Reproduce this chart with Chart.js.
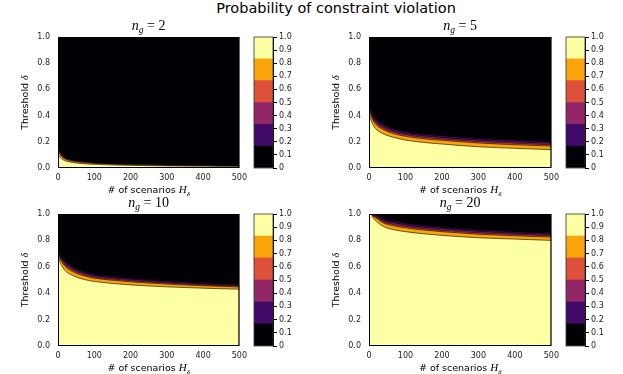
<!DOCTYPE html>
<html>
<head>
<meta charset="utf-8">
<script src="https://cdn.jsdelivr.net/npm/chart.js@4.4.1/dist/chart.umd.min.js"></script>
<style>
  body { margin:0; width:623px; height:374px; overflow:hidden; background:#fff; position:relative; }
  canvas { position:absolute; }
  #title { position:absolute; left:136px; top:0; width:400px; text-align:center; font:14.5px "DejaVu Sans"; line-height:17px; color:#000; }
</style>
</head>
<body>
<div id="title">Probability of constraint violation</div>
<canvas id="p1" width="252" height="196" style="left:0px;top:0px"></canvas>
<canvas id="c1" width="50" height="196" style="left:250px;top:0px"></canvas>
<canvas id="p2" width="253" height="196" style="left:311px;top:0px"></canvas>
<canvas id="c2" width="50" height="196" style="left:562px;top:0px"></canvas>
<canvas id="p3" width="252" height="197" style="left:0px;top:177px"></canvas>
<canvas id="c3" width="50" height="197" style="left:250px;top:177px"></canvas>
<canvas id="p4" width="253" height="197" style="left:311px;top:177px"></canvas>
<canvas id="c4" width="50" height="197" style="left:562px;top:177px"></canvas>
<script>
// scenario counts (x) and contour levels
const H = [0, 5, 10, 20, 40, 70, 100, 150, 200, 300, 400, 500];
const levels = [0, 0.167, 0.333, 0.5, 0.667, 0.833, 1];
const bandColors = ['#000004', '#420a68', '#932667', '#dd513a', '#fca50a', '#fcffa4'];
const cbTicks = [0, 0.1, 0.2, 0.3, 0.4, 0.5, 0.6, 0.7, 0.8, 0.9, 1.0];

// threshold delta on each contour line, n_g = 2
const ng2L17 = [0.17, 0.135, 0.11, 0.083, 0.064, 0.052, 0.044, 0.036, 0.031, 0.025, 0.021, 0.019];
const ng2L33 = [0.158, 0.125, 0.102, 0.077, 0.06, 0.048, 0.041, 0.033, 0.029, 0.023, 0.020, 0.018];
const ng2L50 = [0.147, 0.116, 0.095, 0.072, 0.056, 0.045, 0.038, 0.031, 0.027, 0.022, 0.018, 0.016];
const ng2L67 = [0.137, 0.108, 0.088, 0.068, 0.052, 0.042, 0.035, 0.029, 0.025, 0.020, 0.017, 0.015];
const ng2L83 = [0.11, 0.085, 0.07, 0.055, 0.042, 0.033, 0.028, 0.023, 0.02, 0.016, 0.014, 0.012];
// n_g = 5
const ng5L17 = [0.47, 0.45, 0.41, 0.37, 0.33, 0.295, 0.277, 0.258, 0.246, 0.226, 0.213, 0.200];
const ng5L33 = [0.462, 0.434, 0.395, 0.355, 0.316, 0.282, 0.264, 0.245, 0.233, 0.213, 0.2, 0.188];
const ng5L50 = [0.455, 0.42, 0.382, 0.342, 0.303, 0.271, 0.253, 0.234, 0.222, 0.202, 0.189, 0.177];
const ng5L67 = [0.448, 0.406, 0.369, 0.329, 0.292, 0.26, 0.242, 0.223, 0.211, 0.191, 0.178, 0.167];
const ng5L83 = [0.43, 0.37, 0.335, 0.295, 0.26, 0.232, 0.213, 0.195, 0.183, 0.162, 0.150, 0.140];
// n_g = 10
const ng10L17 = [0.74, 0.70, 0.675, 0.64, 0.60, 0.565, 0.544, 0.527, 0.514, 0.494, 0.478, 0.468];
const ng10L33 = [0.734, 0.688, 0.662, 0.626, 0.587, 0.553, 0.533, 0.516, 0.504, 0.485, 0.47, 0.46];
const ng10L50 = [0.729, 0.677, 0.65, 0.613, 0.575, 0.542, 0.523, 0.507, 0.495, 0.477, 0.463, 0.454];
const ng10L67 = [0.724, 0.667, 0.639, 0.602, 0.564, 0.532, 0.514, 0.498, 0.486, 0.469, 0.456, 0.447];
const ng10L83 = [0.71, 0.64, 0.61, 0.57, 0.535, 0.505, 0.489, 0.474, 0.463, 0.448, 0.438, 0.430];
// n_g = 20
const ng20L17 = [1.0, 1.0, 1.0, 0.995, 0.962, 0.945, 0.93, 0.913, 0.90, 0.88, 0.866, 0.856];
const ng20L33 = [1.0, 1.0, 0.995, 0.985, 0.951, 0.932, 0.917, 0.9, 0.888, 0.868, 0.855, 0.845];
const ng20L50 = [1.0, 1.0, 0.991, 0.976, 0.94, 0.92, 0.906, 0.889, 0.876, 0.857, 0.845, 0.835];
const ng20L67 = [1.0, 1.0, 0.986, 0.968, 0.931, 0.909, 0.895, 0.878, 0.866, 0.847, 0.835, 0.825];
const ng20L83 = [1.0, 1.0, 0.975, 0.945, 0.905, 0.88, 0.866, 0.85, 0.838, 0.82, 0.81, 0.80];

const panels = [
  { id: 'p1', cb: 'c1', ng: '2',  lines: [ng2L17, ng2L33, ng2L50, ng2L67, ng2L83] },
  { id: 'p2', cb: 'c2', ng: '5',  lines: [ng5L17, ng5L33, ng5L50, ng5L67, ng5L83] },
  { id: 'p3', cb: 'c3', ng: '10', lines: [ng10L17, ng10L33, ng10L50, ng10L67, ng10L83] },
  { id: 'p4', cb: 'c4', ng: '20', lines: [ng20L17, ng20L33, ng20L50, ng20L67, ng20L83] }
];

const SANS = '"DejaVu Sans"';
const SERIF = '"Liberation Serif"';

function drawRuns(ctx, runs, cx, baseY) {
  let w = 0;
  runs.forEach(r => { ctx.font = r.font; r.w = ctx.measureText(r.t).width; w += r.w; });
  let x = cx - w / 2;
  runs.forEach(r => { ctx.font = r.font; ctx.fillText(r.t, x, baseY + (r.dy || 0)); x += r.w; });
}

const panelText = {
  id: 'panelText',
  beforeDatasetsDraw(chart) {
    const a = chart.chartArea, ctx = chart.ctx;
    ctx.save();
    ctx.fillStyle = bandColors[0];
    ctx.fillRect(a.left, a.top, a.right - a.left, a.bottom - a.top);
    ctx.restore();
  },
  afterDraw(chart) {
    const a = chart.chartArea, ctx = chart.ctx;
    const ng = chart.options.plugins.panelText.ng;
    ctx.save();
    ctx.strokeStyle = '#000';
    ctx.lineWidth = 1;
    ctx.strokeRect(a.left + 0.5, a.top + 0.5, a.right - a.left - 1, a.bottom - a.top - 1);
    ctx.fillStyle = '#000';
    ctx.textBaseline = 'alphabetic';
    const cx = (a.left + a.right) / 2;
    drawRuns(ctx, [
      { t: 'n', font: 'italic 14px ' + SERIF },
      { t: 'g', font: 'italic 9.5px ' + SERIF, dy: 3 },
      { t: ' = ' + ng, font: '14px ' + SERIF }
    ], cx, a.top - 7);
    drawRuns(ctx, [
      { t: '# of scenarios ', font: '9.5px ' + SANS },
      { t: 'H', font: 'italic 11px ' + SERIF },
      { t: 'δ', font: 'italic 7px ' + SERIF, dy: 3 }
    ], cx, a.bottom + 25);
    ctx.translate(a.left - 30, (a.top + a.bottom) / 2);
    ctx.rotate(-Math.PI / 2);
    drawRuns(ctx, [
      { t: 'Threshold ', font: '9.5px ' + SANS },
      { t: 'δ', font: 'italic 10px ' + SERIF }
    ], 0, 0);
    ctx.restore();
  }
};

const cbFrame = {
  id: 'cbFrame',
  afterDraw(chart) {
    const a = chart.chartArea, ctx = chart.ctx;
    ctx.save();
    ctx.strokeStyle = '#333';
    ctx.lineWidth = 0.8;
    ctx.strokeRect(a.left, a.top, a.right - a.left, a.bottom - a.top);
    ctx.restore();
  }
};

const lineColors = bandColors.slice(1); // fill colour under each contour line

panels.forEach(p => {
  new Chart(document.getElementById(p.id), {
    type: 'line',
    data: {
      datasets: p.lines.map((vals, i) => ({
        data: vals.map((v, j) => ({ x: H[j], y: v })),
        borderColor: 'rgba(0,0,0,0.75)',
        borderWidth: 0.8,
        backgroundColor: lineColors[i],
        fill: 'start',
        pointRadius: 0,
        cubicInterpolationMode: 'monotone',
        order: 5 - i
      }))
    },
    options: {
      responsive: false,
      animation: false,
      devicePixelRatio: 1,
      layout: { padding: { left: 0, top: 37, right: 10, bottom: 0 } },
      plugins: { legend: { display: false }, tooltip: { enabled: false }, panelText: { ng: p.ng } },
      scales: {
        x: {
          type: 'linear', min: 0, max: 500,
          grid: { display: false, drawTicks: false },
          border: { display: false },
          ticks: { stepSize: 100, maxRotation: 0, padding: 5, color: '#222', font: { family: 'DejaVu Sans', size: 8 } },
          afterFit: s => { s.height = 28; }
        },
        y: {
          min: 0, max: 1,
          grid: { display: false, drawTicks: false },
          border: { display: false },
          ticks: { stepSize: 0.2, padding: 8, color: '#222', font: { family: 'DejaVu Sans', size: 8 },
                   callback: v => v.toFixed(1) },
          afterFit: s => { s.width = 58; }
        }
      }
    },
    plugins: [panelText]
  });

  new Chart(document.getElementById(p.cb), {
    type: 'bar',
    data: {
      labels: ['cb'],
      datasets: bandColors.map((c, i) => ({
        data: [[levels[i], levels[i + 1]]],
        backgroundColor: c,
        borderWidth: 0,
        grouped: false,
        barPercentage: 1,
        categoryPercentage: 1
      }))
    },
    options: {
      responsive: false,
      animation: false,
      devicePixelRatio: 1,
      layout: { padding: { left: 4, top: 37, right: 0, bottom: 28 } },
      plugins: { legend: { display: false }, tooltip: { enabled: false } },
      scales: {
        x: { display: false },
        y: {
          position: 'right', min: 0, max: 1,
          afterBuildTicks: s => { s.ticks = cbTicks.map(v => ({ value: v })); },
          grid: { drawOnChartArea: false, drawTicks: true, tickLength: 4, color: '#000' },
          border: { display: true, color: '#000' },
          ticks: { padding: 2, color: '#222', font: { family: 'DejaVu Sans', size: 8 },
                   callback: v => v === 0 ? '0' : v.toFixed(1) },
          afterFit: s => { s.width = 27; }
        }
      }
    },
    plugins: [cbFrame]
  });
});
</script>
</body>
</html>
